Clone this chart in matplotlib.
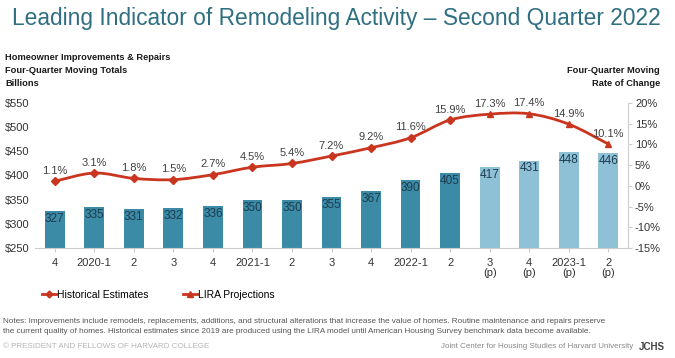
import matplotlib
matplotlib.use('Agg')
from matplotlib import pyplot as plt
from matplotlib.path import Path
from matplotlib.patches import PathPatch
import numpy as np

plt.rcParams['font.family'] = ['Liberation Sans', 'DejaVu Sans']

quarters = ['4', '2020-1', '2', '3', '4', '2021-1', '2', '3', '4', '2022-1', '2',
            '3\n(p)', '4\n(p)', '2023-1\n(p)', '2\n(p)']
spending = [327, 335, 331, 332, 336, 350, 350, 355, 367, 390, 405, 417, 431, 448, 446]
rate = [1.1, 3.1, 1.8, 1.5, 2.7, 4.5, 5.4, 7.2, 9.2, 11.6, 15.9, 17.3, 17.4, 14.9, 10.1]
n_hist = 11  # first 11 quarters are historical estimates

dark = '#3b8aa6'
light = '#8fc1d6'
red = '#c9351f'


def smooth_path(xs, ys, k=1 / 6):
    # smoothed line through the points (like the Excel "smoothed line" option)
    pts = np.column_stack([xs, ys]).astype(float)
    verts = [pts[0]]
    codes = [Path.MOVETO]
    for i in range(len(pts) - 1):
        p0 = pts[max(i - 1, 0)]
        p1 = pts[i]
        p2 = pts[i + 1]
        p3 = pts[min(i + 2, len(pts) - 1)]
        verts += [p1 + (p2 - p0) * k, p2 - (p3 - p1) * k, p2]
        codes += [Path.CURVE4] * 3
    return Path(verts, codes)


fig = plt.figure(figsize=(6.75, 3.58), dpi=100)
ax = fig.add_axes([35 / 675, 1 - 248 / 358, 593 / 675, 145 / 358])

x = np.arange(len(spending))
colors = [dark if i < n_hist else light for i in x]
ax.bar(x, np.array(spending) - 250, bottom=250, width=0.5, color=colors)
for xi, v in zip(x, spending):
    ax.text(xi, v - 4, str(v), ha='center', va='top', fontsize=8.5, color='#1d3d50')

ax.set_xlim(-0.5, len(spending) - 0.5)
ax.set_ylim(250, 550)
ax.set_yticks(range(250, 551, 50))
ax.set_yticklabels(['$%d' % v for v in range(250, 551, 50)], fontsize=8, color='#333333')
ax.set_xticks(x)
ax.set_xticklabels(quarters, fontsize=8, color='#333333', linespacing=1.0)
for s in ['top', 'left', 'right']:
    ax.spines[s].set_visible(False)
ax.spines['bottom'].set_color('#cccccc')
ax.tick_params(axis='y', length=0, pad=4)
ax.tick_params(axis='x', length=3, color='#cccccc', pad=4)

ax2 = ax.twinx()
ax2.set_ylim(-15, 20)
ax2.set_yticks(range(-15, 21, 5))
ax2.set_yticklabels(['%d%%' % v for v in range(-15, 21, 5)], fontsize=8, color='#333333')
for s in ['top', 'left', 'bottom']:
    ax2.spines[s].set_visible(False)
ax2.spines['right'].set_color('#cccccc')
ax2.tick_params(axis='y', length=3, color='#cccccc', pad=2)

ax2.add_patch(PathPatch(smooth_path(x, rate), facecolor='none', edgecolor=red, lw=2, zorder=3))
ax2.plot(x[:n_hist], rate[:n_hist], ls='none', marker='D', ms=4, color=red, zorder=4)
ax2.plot(x[n_hist:], rate[n_hist:], ls='none', marker='^', ms=5, color=red, zorder=4)
for xi, v in zip(x, rate):
    ax2.text(xi, v + 1.3, '%.1f%%' % v, ha='center', va='bottom', fontsize=8, color='#404040')

h1 = plt.Line2D([], [], color=red, lw=2, marker='D', ms=3.5)
h2 = plt.Line2D([], [], color=red, lw=2, marker='^', ms=4.5)
fig.legend([h1, h2], ['Historical Estimates', 'LIRA Projections'], loc='center left',
           bbox_to_anchor=(42 / 675, 1 - 295 / 358), ncol=2, frameon=False, fontsize=7.5,
           handlelength=1.3, handletextpad=0.15, columnspacing=3.3, borderaxespad=0,
           borderpad=0)

fig.text(12 / 675, 1 - 18 / 358, 'Leading Indicator of Remodeling Activity \u2013 Second Quarter 2022',
         fontsize=16.4, color='#2f6f82', va='center')
fig.text(5 / 675, 1 - 53 / 358, 'Homeowner Improvements & Repairs\nFour-Quarter Moving Totals\nBillions',
         fontsize=6.7, fontweight='bold', color='#1a1a1a', va='top', linespacing=1.6)
fig.text(660 / 675, 1 - 66 / 358, 'Four-Quarter Moving\nRate of Change', fontsize=6.7,
         fontweight='bold', color='#1a1a1a', va='top', ha='right', multialignment='right',
         linespacing=1.6)

fig.text(3 / 675, 1 - 318 / 358,
         'Notes: Improvements include remodels, replacements, additions, and structural alterations that '
         'increase the value of homes. Routine maintenance and repairs preserve\n'
         'the current quality of homes. Historical estimates since 2019 are produced using the LIRA model '
         'until American Housing Survey benchmark data become available.',
         fontsize=5.85, color='#555555', va='top', linespacing=1.6)
fig.text(3 / 675, 1 - 346 / 358, '\u00a9 PRESIDENT AND FELLOWS OF HARVARD COLLEGE', fontsize=5.8,
         color='#b5b5b5', va='center')
fig.text(633 / 675, 1 - 346 / 358, 'Joint Center for Housing Studies of Harvard University',
         fontsize=5.8, color='#888888', va='center', ha='right')
fig.text(639 / 675, 1 - 347 / 358, 'JCHS', fontsize=7, fontweight='bold', color='#444444',
         va='center', ha='left')

fig.savefig('out.png', dpi=100)
